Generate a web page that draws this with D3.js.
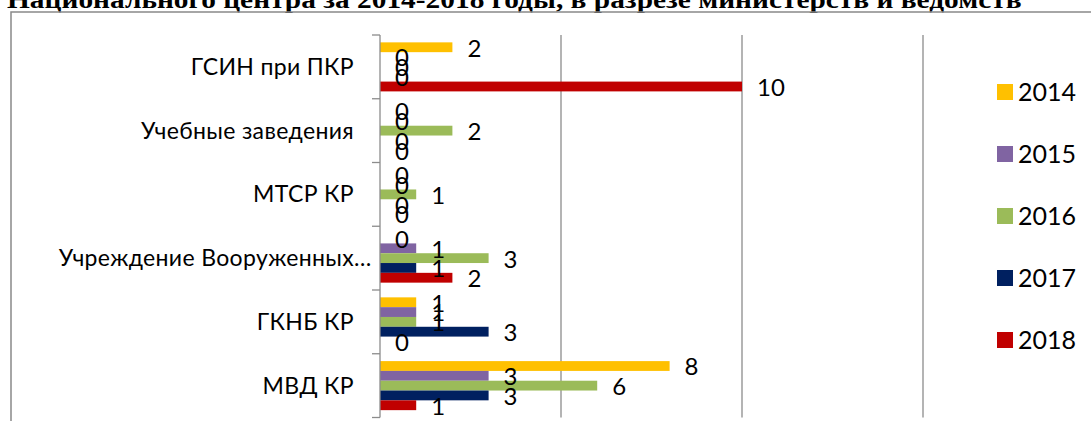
<!DOCTYPE html>
<html>
<head>
<meta charset="utf-8">
<script src="https://cdn.jsdelivr.net/npm/d3@7"></script>
<style>
  html, body { margin: 0; padding: 0; background: #fff; }
  svg { display: block; }
</style>
</head>
<body>
<svg id="chart" width="1091" height="421"></svg>
<script>
const titleText = "Национального центра за 2014-2018 годы, в разрезе министерств и ведомств";
const categories = ["ГСИН при ПКР", "Учебные заведения", "МТСР КР", "Учреждение Вооруженных…", "ГКНБ КР", "МВД КР"];
const years = ["2014", "2015", "2016", "2017", "2018"];
const v2014 = [2, 0, 0, 0, 1, 8];
const v2015 = [0, 0, 0, 1, 1, 3];
const v2016 = [0, 2, 1, 3, 1, 6];
const v2017 = [0, 0, 0, 1, 3, 3];
const v2018 = [10, 0, 0, 2, 0, 1];
const colors = ["#FFC000", "#8064A2", "#9BBB59", "#002060", "#C00000"];
const xMax = 15;

const seriesValues = [v2014, v2015, v2016, v2017, v2018];
const rows = [];
categories.forEach((c, i) => {
  years.forEach((y, j) => rows.push({ cat: c, year: y, value: seriesValues[j][i], color: colors[j] }));
});

const svg = d3.select("#chart");
const plot = { left: 380, right: 923, top: 35, bottom: 417.5 };

const x = d3.scaleLinear().domain([0, xMax]).range([plot.left, plot.right]);
const y = d3.scaleBand().domain(categories).range([plot.top, plot.bottom]).padding(0);
const ySub = d3.scaleBand().domain(years).range([0, y.bandwidth()]).paddingInner(0).paddingOuter(0.75);

// Title (partly cut at top)
svg.append("text")
  .attr("transform", "translate(7,8) scale(1.13,1)")
  .attr("font-family", "'Liberation Serif', 'Times New Roman', serif")
  .attr("font-weight", "bold")
  .attr("font-size", 26)
  .attr("fill", "#000")
  .text(titleText);

// Outer frame
svg.append("rect")
  .attr("x", 11).attr("y", 12)
  .attr("width", 1200).attr("height", 600)
  .attr("fill", "none")
  .attr("stroke", "#898989")
  .attr("stroke-width", 1.5);

// Gridlines
const gridVals = x.ticks(3).filter(d => d > 0);
svg.append("g").selectAll("line").data(gridVals).join("line")
  .attr("x1", d => x(d)).attr("x2", d => x(d))
  .attr("y1", plot.top).attr("y2", plot.bottom)
  .attr("stroke", "#8c8c8c").attr("stroke-width", 1.3);

// Bars
svg.append("g").selectAll("rect").data(rows).join("rect")
  .attr("x", x(0))
  .attr("y", d => y(d.cat) + ySub(d.year))
  .attr("width", d => x(d.value) - x(0))
  .attr("height", ySub.bandwidth())
  .attr("fill", d => d.color);

// Category axis
const axisG = svg.append("g");
axisG.append("line")
  .attr("x1", x(0)).attr("x2", x(0))
  .attr("y1", plot.top).attr("y2", plot.bottom)
  .attr("stroke", "#8c8c8c").attr("stroke-width", 1.3);
const tickYs = categories.map(c => y(c)).concat([y(categories[categories.length - 1]) + y.bandwidth()]);
axisG.selectAll("line.tick").data(tickYs).join("line")
  .attr("class", "tick")
  .attr("x1", x(0) - 8).attr("x2", x(0))
  .attr("y1", d => d).attr("y2", d => d)
  .attr("stroke", "#8c8c8c").attr("stroke-width", 1.3);

const labelX = 354;
const catFont = "Lato, 'Open Sans', sans-serif";
categories.forEach(c => {
  const cy = y(c) + y.bandwidth() / 2;
  const truncated = c.endsWith("…");
  const main = truncated ? c.slice(0, -1) : c;
  axisG.append("text")
    .attr("x", labelX).attr("y", cy)
    .attr("dy", "0.35em")
    .attr("text-anchor", "end")
    .attr("font-family", catFont).attr("font-size", 23)
    .attr("letter-spacing", 0.35)
    .attr("fill", "#000")
    .text(main);
  if (truncated) {
    axisG.append("text")
      .attr("x", labelX).attr("y", cy)
      .attr("dy", "0.35em")
      .attr("text-anchor", "start")
      .attr("font-family", catFont).attr("font-size", 23)
      .attr("fill", "#000")
      .text("…");
  }
});

// Data labels
svg.append("g").selectAll("text").data(rows).join("text")
  .attr("x", d => x(d.value) + 15)
  .attr("y", d => y(d.cat) + ySub(d.year) + ySub.bandwidth() / 2 + 1)
  .attr("dy", "0.35em")
  .attr("font-family", catFont).attr("font-size", 24)
  .attr("fill", "#000")
  .text(d => d.value);

// Legend
const legend = svg.append("g");
const legendY = d3.scalePoint().domain(years).range([92, 340]);
years.forEach((yr, j) => {
  legend.append("rect")
    .attr("x", 997).attr("y", legendY(yr) - 8)
    .attr("width", 16).attr("height", 16)
    .attr("fill", colors[j]);
  legend.append("text")
    .attr("x", 1018).attr("y", legendY(yr))
    .attr("dy", "0.35em")
    .attr("font-family", catFont).attr("font-size", 25)
    .attr("fill", "#000")
    .text(yr);
});
</script>
</body>
</html>
